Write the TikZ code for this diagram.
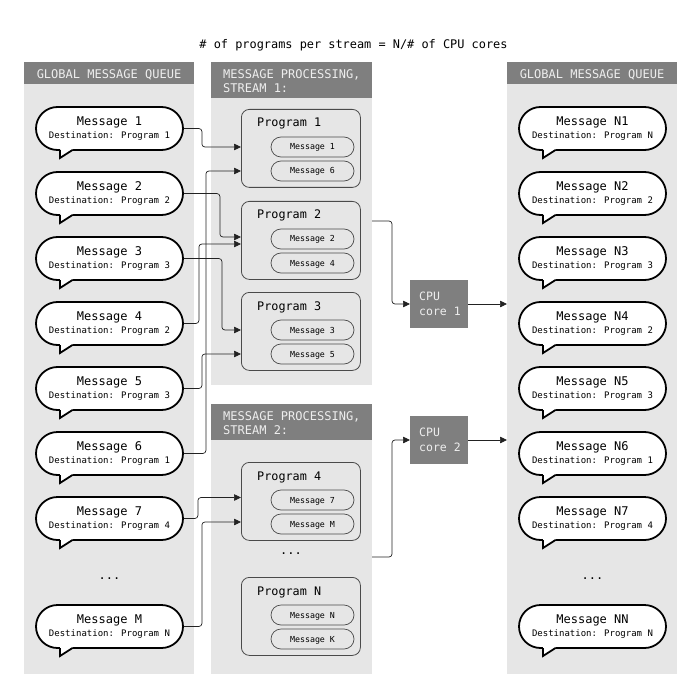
\documentclass[tikz,border=0pt]{standalone}
\usepackage{fontspec}
\setmainfont{DejaVu Sans Mono}
\usetikzlibrary{shapes.misc,arrows.meta,calc}
\definecolor{panelgray}{HTML}{E6E6E6}
\definecolor{headgray}{HTML}{7F7F7F}
\definecolor{headtext}{HTML}{EEEEEE}
\definecolor{edgegray}{HTML}{4A4A4A}
\definecolor{linegray}{HTML}{222222}

\newcommand{\bub}[5]{%
  \node[bubble] (#1) at (#2,#3) {};
  \fill[white] (#2-49.5,#3+19.5) -- (#2-49.5,#3+29.5) -- (#2-35,#3+19.5) -- cycle;
  \draw[black,line width=1.8pt,line join=miter] (#2-49.5,#3+21.5) -- (#2-49.5,#3+29.5) -- (#2-37,#3+21.5);
  \node[bubtitle] (#1t) at (#2,#3-2.8) {#4};
  \node[bubdest] (#1d) at (#2,#3+9.8) {#5};
}

\begin{document}
\begin{tikzpicture}[x=1pt,y=-1pt,
  panel/.style={fill=panelgray, anchor=north west, inner sep=0pt, outer sep=0pt},
  head/.style={fill=headgray, anchor=north west, inner sep=0pt, outer sep=0pt},
  headlabel/.style={text=headtext, font=\fontsize{12}{14}\selectfont, inner sep=0pt},
  bubble/.style={rounded rectangle, draw=black, line width=1.8pt, fill=white,
    minimum width=147pt, minimum height=43pt, inner sep=0pt},
  bubtitle/.style={anchor=base, font=\fontsize{12}{14}\selectfont, inner sep=0pt, text=black},
  bubdest/.style={anchor=base, font=\fontsize{9}{11}\selectfont, inner sep=0pt, text=black},
  progbox/.style={draw=edgegray, line width=0.8pt, rounded corners=8pt, anchor=north west,
    minimum width=119pt, minimum height=78pt, inner sep=0pt},
  progtitle/.style={anchor=base west, font=\fontsize{11.8}{14}\selectfont, inner sep=0pt, text=black},
  subbox/.style={rounded rectangle, draw=edgegray, line width=0.7pt, minimum width=83pt,
    minimum height=20pt, inner sep=0pt, font=\fontsize{8.3}{10}\selectfont,
    text height=6pt, text depth=0pt, text=black},
  cpubox/.style={fill=headgray, anchor=north west, minimum width=58pt, minimum height=48pt,
    inner sep=0pt, outer sep=0pt},
  cputext/.style={anchor=base west, text=headtext, font=\fontsize{11.5}{14}\selectfont, inner sep=0pt},
  dots/.style={anchor=base, font=\fontsize{12}{14}\selectfont, inner sep=0pt},
  conn/.style={draw=linegray, line width=0.7pt, rounded corners=3pt,
    -{Triangle[length=7pt,width=6.5pt]}}
]
\useasboundingbox[fill=white] (0,0) rectangle (700,700);

% title
\node[anchor=base, font=\fontsize{11.9}{14}\selectfont, inner sep=0pt] (title) at (353.5,48.5)
  {\# of programs per stream = N/\# of CPU cores};

% panels
\node[panel, minimum width=170pt, minimum height=612pt] (lq) at (24,62) {};
\node[head, minimum width=170pt, minimum height=22pt] (lqh) at (24,62) {};
\node[headlabel, anchor=base] (lqht) at (109,78.3) {GLOBAL MESSAGE QUEUE};

\node[panel, minimum width=161pt, minimum height=323pt] (s1) at (211,62) {};
\node[head, minimum width=161pt, minimum height=36pt] (s1h) at (211,62) {};
\node[headlabel, anchor=base west] (s1ha) at (223,78.3) {MESSAGE PROCESSING,};
\node[headlabel, anchor=base west] (s1hb) at (223,92.8) {STREAM 1:};

\node[panel, minimum width=161pt, minimum height=270pt] (s2) at (211,404) {};
\node[head, minimum width=161pt, minimum height=36pt] (s2h) at (211,404) {};
\node[headlabel, anchor=base west] (s2ha) at (223,420.3) {MESSAGE PROCESSING,};
\node[headlabel, anchor=base west] (s2hb) at (223,434.8) {STREAM 2:};

\node[panel, minimum width=170pt, minimum height=612pt] (rq) at (507,62) {};
\node[head, minimum width=170pt, minimum height=22pt] (rqh) at (507,62) {};
\node[headlabel, anchor=base] (rqht) at (592,78.3) {GLOBAL MESSAGE QUEUE};

% left bubbles
\bub{m1}{109.5}{128.5}{Message 1}{Destination: Program 1}
\bub{m2}{109.5}{193.5}{Message 2}{Destination: Program 2}
\bub{m3}{109.5}{258.5}{Message 3}{Destination: Program 3}
\bub{m4}{109.5}{323.5}{Message 4}{Destination: Program 2}
\bub{m5}{109.5}{388.5}{Message 5}{Destination: Program 3}
\bub{m6}{109.5}{453.5}{Message 6}{Destination: Program 1}
\bub{m7}{109.5}{518.5}{Message 7}{Destination: Program 4}
\node[dots] (ldots) at (109.5,579.5) {...};
\bub{mM}{109.5}{626.5}{Message M}{Destination: Program N}

% right bubbles
\bub{n1}{592.5}{128.5}{Message N1}{Destination: Program N}
\bub{n2}{592.5}{193.5}{Message N2}{Destination: Program 2}
\bub{n3}{592.5}{258.5}{Message N3}{Destination: Program 3}
\bub{n4}{592.5}{323.5}{Message N4}{Destination: Program 2}
\bub{n5}{592.5}{388.5}{Message N5}{Destination: Program 3}
\bub{n6}{592.5}{453.5}{Message N6}{Destination: Program 1}
\bub{n7}{592.5}{518.5}{Message N7}{Destination: Program 4}
\node[dots] (rdots) at (592.5,579.5) {...};
\bub{nN}{592.5}{626.5}{Message NN}{Destination: Program N}

% programs
\node[progbox] (p1) at (241,109) {};
\node[progtitle] (p1t) at (257,127) {Program 1};
\node[subbox] (p1a) at (312.5,147) {Message 1};
\node[subbox] (p1b) at (312.5,171) {Message 6};

\node[progbox] (p2) at (241,201) {};
\node[progtitle] (p2t) at (257,219) {Program 2};
\node[subbox] (p2a) at (312.5,239) {Message 2};
\node[subbox] (p2b) at (312.5,263) {Message 4};

\node[progbox] (p3) at (241,292) {};
\node[progtitle] (p3t) at (257,310) {Program 3};
\node[subbox] (p3a) at (312.5,330) {Message 3};
\node[subbox] (p3b) at (312.5,354) {Message 5};

\node[progbox] (p4) at (241,462) {};
\node[progtitle] (p4t) at (257,480) {Program 4};
\node[subbox] (p4a) at (312.5,500) {Message 7};
\node[subbox] (p4b) at (312.5,524) {Message M};

\node[dots] (mdots) at (291,554.5) {...};

\node[progbox] (pN) at (241,577) {};
\node[progtitle] (pNt) at (257,595) {Program N};
\node[subbox] (pNa) at (312.5,615) {Message N};
\node[subbox] (pNb) at (312.5,639) {Message K};

% CPU cores
\node[cpubox] (cpu1) at (410,280) {};
\node[cputext] (cpu1a) at (419,300.5) {CPU};
\node[cputext] (cpu1b) at (419,315) {core 1};
\node[cpubox] (cpu2) at (410,416) {};
\node[cputext] (cpu2a) at (419,436.5) {CPU};
\node[cputext] (cpu2b) at (419,451.5) {core 2};

% connectors from global queue to programs
\draw[conn] (m1.east) -- ++(18,0) |- (p1.west |- p1a);
\draw[conn] (m6.east) -- ++(22,0) |- (p1.west |- p1b);
\draw[conn] (m2.east) -- ++(36,0) |- ($(p2.west |- p2a)+(0,-2)$);
\draw[conn] (m4.east) -- ++(15,0) |- ($(p2.west |- p2a)+(0,5)$);
\draw[conn] (m3.east) -- ++(38,0) |- (p3.west |- p3a);
\draw[conn] (m5.east) -- ++(18,0) |- (p3.west |- p3b);
\draw[conn] (m7.east) -- ++(14,0) |- ($(p4.west |- p4a)+(0,-2.5)$);
\draw[conn] (mM.east) -- ++(18,0) |- ($(p4.west |- p4b)+(0,-2)$);

% streams to CPU cores
\coordinate (c1) at (372,221);
\coordinate (c2) at (372,557);
\draw[conn] (c1) -- ++(20,0) |- (cpu1.west);
\draw[conn] (c2) -- ++(20,0) |- (cpu2.west);
\draw[conn] (cpu1.east) -- (cpu1.east -| rq.west);
\draw[conn] (cpu2.east) -- (cpu2.east -| rq.west);
\end{tikzpicture}
\end{document}
